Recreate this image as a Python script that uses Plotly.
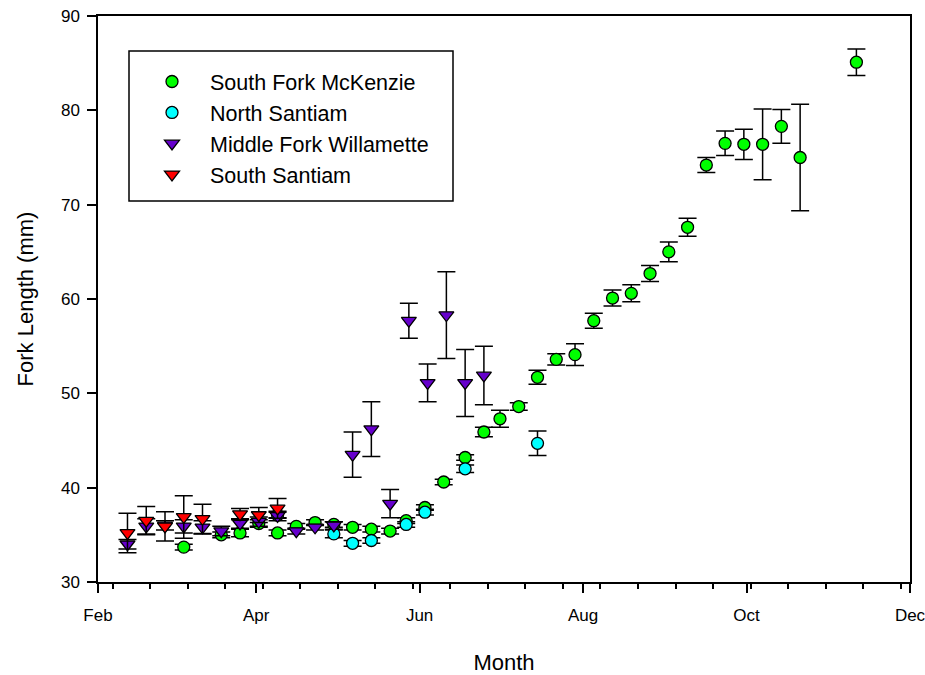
import plotly.graph_objects as go

# ---------------- data ----------------
sfm_dates = ["2013-03-05", "2013-03-19", "2013-03-26", "2013-04-02", "2013-04-09", "2013-04-16",
             "2013-04-23", "2013-04-30", "2013-05-07", "2013-05-14", "2013-05-21", "2013-05-27",
             "2013-06-03", "2013-06-10", "2013-06-18", "2013-06-25", "2013-07-01", "2013-07-08",
             "2013-07-15", "2013-07-22", "2013-07-29", "2013-08-05", "2013-08-12", "2013-08-19",
             "2013-08-26", "2013-09-02", "2013-09-09", "2013-09-16", "2013-09-23", "2013-09-30",
             "2013-10-07", "2013-10-14", "2013-10-21", "2013-11-11"]
sfm_vals = [33.7, 35.0, 35.2, 36.2, 35.2, 35.9, 36.3, 36.1, 35.8, 35.6, 35.4, 36.5,
            37.9, 40.6, 43.2, 45.9, 47.3, 48.6, 51.7, 53.6, 54.1, 57.7, 60.1, 60.6,
            62.7, 65.0, 67.6, 74.2, 76.5, 76.4, 76.4, 78.3, 75.0, 85.1]
sfm_err = [0.3, 0.3, 0.4, 0.4, 0.3, 0.3, 0.3, 0.3, 0.3, 0.3, 0.3, 0.3,
           0.3, 0.3, 0.3, 0.5, 0.9, 0.4, 0.75, 0.6, 1.15, 0.8, 0.85, 0.9,
           0.85, 1.05, 0.95, 0.8, 1.3, 1.6, 3.75, 1.8, 5.65, 1.4]

ns_dates = ["2013-04-09", "2013-04-30", "2013-05-07", "2013-05-14", "2013-05-27", "2013-06-03",
            "2013-06-18", "2013-07-15"]
ns_vals = [37.1, 35.1, 34.1, 34.4, 36.1, 37.4, 42.0, 44.7]
ns_err = [0.3, 0.4, 0.3, 0.3, 0.3, 0.3, 0.4, 1.3]

mfw_dates = ["2013-02-12", "2013-02-19", "2013-02-26", "2013-03-05", "2013-03-12", "2013-03-19",
             "2013-03-26", "2013-04-02", "2013-04-09", "2013-04-16", "2013-04-23", "2013-04-30",
             "2013-05-07", "2013-05-14", "2013-05-21", "2013-05-28", "2013-06-04", "2013-06-11",
             "2013-06-18", "2013-06-25"]
mfw_vals = [34.0, 35.9, 36.0, 35.9, 35.8, 35.4, 36.2, 36.4, 37.0, 35.4, 35.8, 36.0,
            43.5, 46.2, 38.3, 57.7, 51.1, 58.3, 51.1, 51.9]
mfw_err = [0.5, 0.8, 0.5, 0.7, 0.7, 0.5, 0.5, 0.5, 0.5, 0.3, 0.3, 0.4,
           2.4, 2.9, 1.5, 1.85, 2.0, 4.6, 3.55, 3.1]

ss_dates = ["2013-02-12", "2013-02-19", "2013-02-26", "2013-03-05", "2013-03-12", "2013-03-26",
            "2013-04-02", "2013-04-09"]
ss_vals = [35.2, 36.5, 35.9, 36.9, 36.7, 37.2, 37.1, 37.8]
ss_err = [2.1, 1.5, 1.55, 2.25, 1.55, 0.6, 0.8, 1.05]

month_ticks = ["2013-02-01", "2013-04-01", "2013-06-01", "2013-08-01", "2013-10-01", "2013-12-01"]
month_labels = ["Feb", "Apr", "Jun", "Aug", "Oct", "Dec"]

# ---------------- figure ----------------
FONT = "Liberation Sans, Arial, sans-serif"
fig = go.Figure()


def add(name, dates, vals, errs, symbol, color, size):
    fig.add_trace(go.Scatter(
        x=dates, y=vals, mode="markers", name=name,
        error_y=dict(type="data", array=errs, visible=True, color="black",
                     thickness=1.5, width=9),
        marker=dict(symbol=symbol, color=color, size=size,
                    line=dict(color="black", width=1.3)),
    ))


add("South Fork McKenzie", sfm_dates, sfm_vals, sfm_err, "circle", "#00ff00", 12)
add("North Santiam", ns_dates, ns_vals, ns_err, "circle", "#00ffff", 12)
add("Middle Fork Willamette", mfw_dates, mfw_vals, mfw_err, "triangle-down", "#6600cc", 13)
add("South Santiam", ss_dates, ss_vals, ss_err, "triangle-down", "#ff0000", 13)

# plot area on the page: x 98..910, y 16..582 (body margin removed below)
PL, PR, PT, PB = 98, 910, 16, 582
W, H = 925, 675
L, R, T, B = PL, W - PR, PT, H - PB


def px_x(x):
    return (x - PL) / (PR - PL)


def px_y(y):
    return (PB - y) / (PB - PT)


fig.add_shape(type="rect", xref="paper", yref="paper",
              x0=px_x(129), x1=px_x(453), y0=px_y(201), y1=px_y(51),
              line=dict(color="black", width=1.5), fillcolor="rgba(0,0,0,0)")

fig.update_layout(
    width=W, height=H,
    margin=dict(l=L, r=R, t=T, b=B, autoexpand=False),
    plot_bgcolor="white", paper_bgcolor="white",
    font=dict(family=FONT, color="black"),
    showlegend=True,
    legend=dict(x=px_x(134), y=px_y(61), xanchor="left", yanchor="top",
                bgcolor="rgba(0,0,0,0)", borderwidth=0,
                font=dict(size=21.5, family=FONT), itemwidth=66, tracegroupgap=0),
    xaxis=dict(
        type="date", range=["2013-02-01", "2013-12-01"],
        tickmode="array", tickvals=month_ticks, ticktext=month_labels,
        ticks="outside", ticklen=9, tickwidth=1.5, tickcolor="black",
        showline=True, linecolor="black", linewidth=1.5, mirror=True,
        showgrid=False, zeroline=False,
        tickfont=dict(size=17, family=FONT),
        ticklabelstandoff=8, ticklabeloverflow="allow",
        minor=dict(ticks="outside", ticklen=5, tickwidth=1.5, tickcolor="black",
                   tick0="2013-02-06 12:00", dtick=14 * 86400000, showgrid=False),
        title=dict(text="Month", font=dict(size=22, family=FONT), standoff=30),
    ),
    yaxis=dict(
        range=[30, 90], tickmode="linear", tick0=30, dtick=10,
        ticks="outside", ticklen=9, tickwidth=1.5, tickcolor="black",
        showline=True, linecolor="black", linewidth=1.5, mirror=True,
        showgrid=False, zeroline=False,
        tickfont=dict(size=17, family=FONT),
        ticklabelstandoff=4, ticklabeloverflow="allow",
        title=dict(text="Fork Length (mm)", font=dict(size=22, family=FONT), standoff=21),
    ),
)

fig.write_html("out.html",
               config={"displayModeBar": False},
               post_script="document.body.style.margin='0';document.body.style.overflow='hidden';")
